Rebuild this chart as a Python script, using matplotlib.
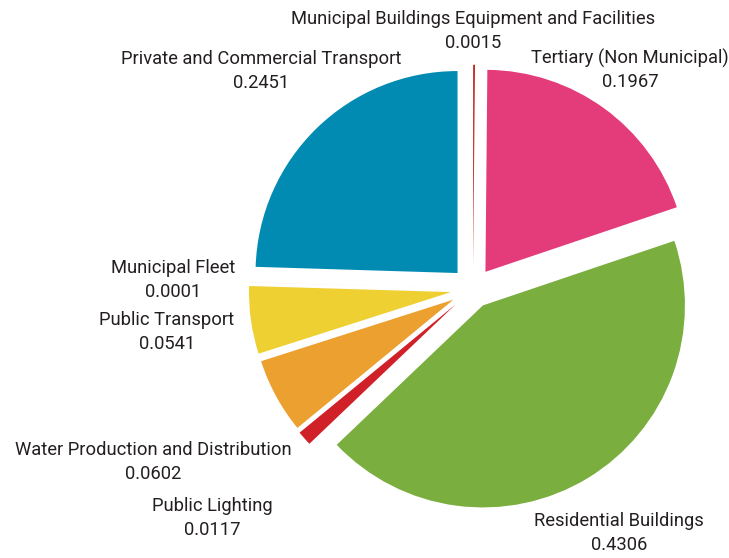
import numpy as np
import matplotlib.pyplot as plt

plt.rcParams['font.family'] = ['Roboto', 'DejaVu Sans']

# energy consumption shares by sector (clockwise from 12 o'clock)
sectors = ['Municipal Buildings Equipment and Facilities',
           'Tertiary (Non Municipal)',
           'Residential Buildings',
           'Public Lighting',
           'Water Production and Distribution',
           'Public Transport',
           'Municipal Fleet',
           'Private and Commercial Transport']
shares = [0.0015, 0.1967, 0.4306, 0.0117, 0.0602, 0.0541, 0.0001, 0.2451]
colors = ['#c0281e', '#e43b7a', '#7aae3e', '#d02129',
          '#eca02f', '#efd032', '#f3c9c6', '#018bb2']
explode = [0.11, 0.105, 0.095, 0.115, 0.11, 0.11, 0.11, 0.11]

# where each label sits (pixels from top-left)
label_pos = [(473, 31), (630, 70), (619, 533), (212, 518),
             (153, 462), (167, 332), (173, 280), (261, 71)]

W, H = 729, 558
fig = plt.figure(figsize=(W / 100, H / 100), dpi=100)
ax = fig.add_axes([0, 0, 1, 1])

# pie explode offsets are absolute, so scale them by the radius
cx, cy, r = 473, H - 289, 202
ax.pie(shares, colors=colors, explode=[e * r for e in explode],
       startangle=90, counterclock=False, radius=r, center=(cx, cy),
       wedgeprops=dict(linewidth=0))

for name, val, (x, y) in zip(sectors, shares, label_pos):
    ax.text(x, H - y, f'{name}\n{val:.4f}', ha='center', va='center',
            fontsize=13.2, color='#231f20', linespacing=1.4)

ax.set_xlim(0, W)
ax.set_ylim(0, H)
ax.set_aspect('equal')
ax.axis('off')

fig.savefig('out.png', dpi=100, facecolor='white')
